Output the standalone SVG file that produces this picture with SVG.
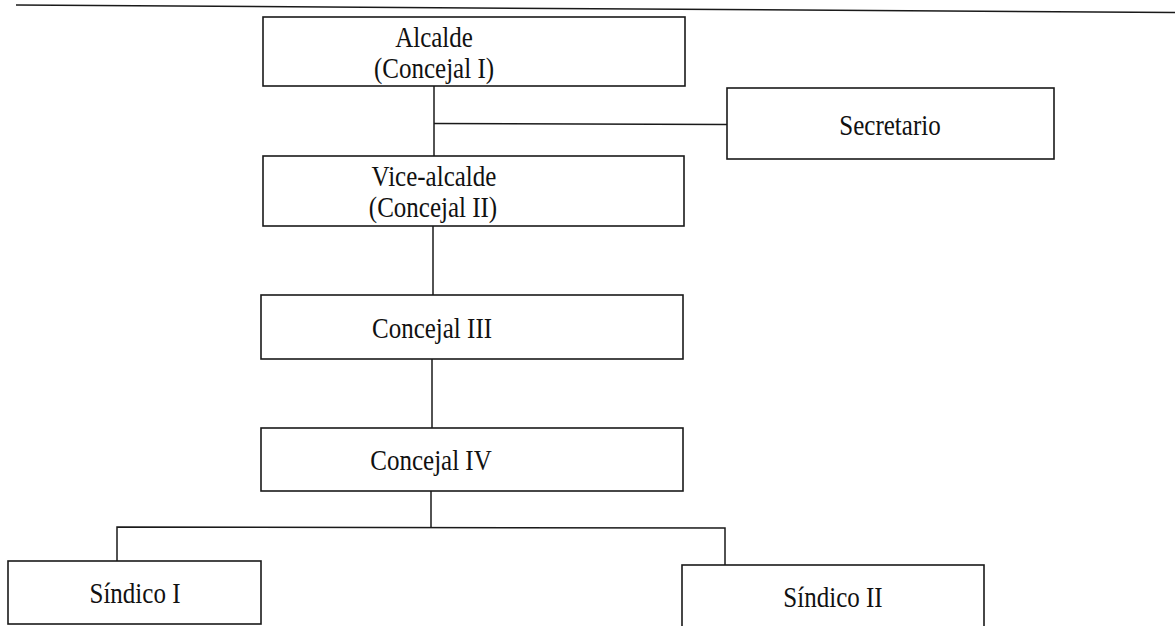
<svg xmlns="http://www.w3.org/2000/svg" width="1175" height="626" viewBox="0 0 1175 626">
<style>
.box{fill:#fff;stroke:#1a1a1a;stroke-width:1.6}
.ln{fill:none;stroke:#1a1a1a;stroke-width:1.5}
text{font-family:"Liberation Serif","Times New Roman",serif;font-size:25px;fill:#111;text-anchor:middle}
</style>
<rect width="1175" height="626" fill="#fff"/>
<line class="ln" x1="16" y1="5" x2="1175" y2="12.5"/>
<g id="connectors">
<line class="ln" x1="434" y1="86" x2="434" y2="156"/>
<line class="ln" x1="434" y1="123.5" x2="727" y2="124.5"/>
<line class="ln" x1="433" y1="226" x2="433" y2="295"/>
<line class="ln" x1="432" y1="359" x2="432" y2="428"/>
<polyline class="ln" points="117,561 117,527 725,528 725,565"/>
<line class="ln" x1="431" y1="491" x2="431" y2="527.5"/>
</g>
<g id="alcalde">
<rect class="box" x="263" y="17" width="422" height="69"/>
<text transform="translate(434,47) scale(1,1.2)">Alcalde</text>
<text transform="translate(434,78) scale(1,1.2)">(Concejal I)</text>
</g>
<g id="secretario">
<rect class="box" x="727" y="88" width="327" height="71"/>
<text transform="translate(890,135) scale(1,1.2)">Secretario</text>
</g>
<g id="vicealcalde">
<rect class="box" x="263" y="156" width="421" height="70"/>
<text transform="translate(434,186) scale(1,1.2)">Vice-alcalde</text>
<text transform="translate(433,217) scale(1,1.2)">(Concejal II)</text>
</g>
<g id="concejal3">
<rect class="box" x="261" y="295" width="422" height="64"/>
<text transform="translate(432,338) scale(1,1.2)">Concejal III</text>
</g>
<g id="concejal4">
<rect class="box" x="261" y="428" width="422" height="63"/>
<text transform="translate(431,470) scale(1,1.2)">Concejal IV</text>
</g>
<g id="sindico1">
<rect class="box" x="8" y="561" width="253" height="63"/>
<text transform="translate(135,603) scale(1,1.2)">Síndico I</text>
</g>
<g id="sindico2">
<rect class="box" x="682" y="565" width="302" height="70"/>
<text transform="translate(833,607) scale(1,1.2)">Síndico II</text>
</g>
</svg>
